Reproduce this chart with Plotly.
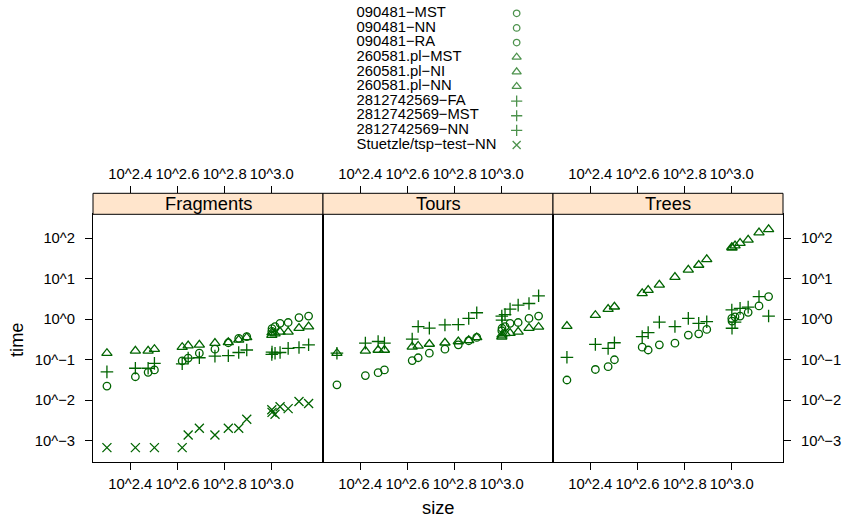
import plotly.graph_objects as go

# ---------------- data ----------------
sizes = [200, 264, 299, 318, 417, 442, 493, 574, 654, 724, 783,
         1000, 1002, 1032, 1084, 1173, 1304, 1432]

panels = ["Fragments", "Tours", "Trees"]

series_names = ["090481-MST", "090481-NN", "090481-RA",
                "260581.pl-MST", "260581.pl-NI", "260581.pl-NN",
                "2812742569-FA", "2812742569-MST", "2812742569-NN",
                "Stuetzle/tsp-test-NN"]
series_symbols = ["circle-open", "circle-open", "circle-open",
                  "triangle-up-open", "triangle-up-open", "triangle-up-open",
                  "cross-thin-open", "cross-thin-open", "cross-thin-open",
                  "x-thin-open"]
series_panel = ["Trees", "Fragments", "Tours",
                "Trees", "Tours", "Fragments",
                "Tours", "Trees", "Fragments",
                "Fragments"]

# time (seconds) per series, one value per instance size
t_090481_mst = [0.0316, 0.0575, 0.0676, 0.10, 0.204, 0.174, 0.234, 0.257, 0.407, 0.437, 0.562,
                1.05, 0.90, 1.15, 1.20, 1.48, 2.14, 3.63]
t_090481_nn = [0.0224, 0.038, 0.049, 0.0562, 0.0933, 0.11, 0.145, 0.182, 0.263, 0.339, 0.372,
               0.50, 0.59, 0.661, 0.794, 0.832, 1.10, 1.20]
t_090481_ra = [0.024, 0.0407, 0.0479, 0.0562, 0.0955, 0.112, 0.145, 0.182, 0.234, 0.295, 0.355,
               0.52, 0.60, 0.661, 0.794, 0.832, 1.05, 1.20]
t_260581_mst = [0.676, 1.26, 1.78, 2.04, 4.37, 5.25, 7.08, 11.0, 16.6, 21.9, 30.2,
                60.3, 58.0, 66.0, 75.9, 91.2, 138.0, 166.0]
t_260581_ni = [0.145, 0.166, 0.174, 0.174, 0.209, 0.219, 0.245, 0.263, 0.282, 0.302, 0.355,
               0.37, 0.41, 0.45, 0.457, 0.49, 0.603, 0.646]
t_260581_nn = [0.145, 0.166, 0.166, 0.182, 0.204, 0.224, 0.234, 0.257, 0.269, 0.309, 0.355,
               0.407, 0.47, 0.44, 0.49, 0.49, 0.603, 0.661]
t_2812742569_fa = [0.145, 0.257, 0.282, 0.257, 0.324, 0.661, 0.603, 0.724, 0.741, 1.05, 1.45,
                   1.20, 0.95, 1.30, 1.78, 2.24, 2.45, 3.80]
t_2812742569_mst = [0.115, 0.24, 0.19, 0.263, 0.372, 0.468, 0.851, 0.661, 1.05, 0.794, 0.871,
                    1.70, 0.60, 0.85, 1.86, 2.00, 3.63, 1.20]
t_2812742569_nn = [0.0501, 0.0617, 0.0617, 0.0813, 0.0794, 0.11, 0.112, 0.123, 0.126, 0.151, 0.174,
                   0.135, 0.155, 0.145, 0.151, 0.191, 0.20, 0.234]
t_stuetzle_nn = [0.000676, 0.000676, None, 0.000676, 0.000676, 0.00138, 0.00204, 0.00138, 0.00204,
                 0.00204, 0.00339, 0.0058, 0.0050, 0.0045, 0.0069, 0.0062, 0.0093, 0.0083]

series_times = [t_090481_mst, t_090481_nn, t_090481_ra,
                t_260581_mst, t_260581_ni, t_260581_nn,
                t_2812742569_fa, t_2812742569_mst, t_2812742569_nn,
                t_stuetzle_nn]

x_tick_exps = [2.4, 2.6, 2.8, 3.0]
x_tick_text = ["10^2.4", "10^2.6", "10^2.8", "10^3.0"]
y_tick_exps = [2, 1, 0, -1, -2, -3]
y_tick_text = ["10^2", "10^1", "10^0", "10^\u22121", "10^\u22122", "10^\u22123"]

# ---------------- styling / layout ----------------
W, H = 844, 518
ML, MR, MT, MB = 93, 61, 0, 56
PH = H - MT - MB            # 462
GREEN = "#006400"
FONT = "Liberation Sans, Arial, Helvetica, sans-serif"
FS = 14.8       # tick labels and key text
FS_BIG = 18.3   # strip text and axis titles

panel_top = (PH - 214.3) / PH
strip_top = (PH - 193.3) / PH
x_range = [2.242, 3.217]
y_range = [-3.526, 2.593]

def disp(name):
    return name.replace("-", "\u2212")

def msize(sym):
    return 7.5 if "circle" in sym else 9

fig = go.Figure()

for name, sym, pan, tms in zip(series_names, series_symbols, series_panel, series_times):
    k = panels.index(pan) + 1
    fig.add_trace(go.Scatter(
        x=sizes, y=tms, mode="markers", name=name,
        marker=dict(symbol=sym, color=GREEN, size=msize(sym),
                    line=dict(color=GREEN, width=1.3)),
        xaxis="x" if k == 1 else f"x{k}", yaxis="y" if k == 1 else f"y{k}",
        showlegend=False, cliponaxis=False,
    ))

# empty traces so that the top (overlaying) axes are drawn
for k in range(1, 4):
    fig.add_trace(go.Scatter(x=[], y=[], mode="markers", xaxis=f"x{k + 3}",
                             yaxis="y" if k == 1 else f"y{k}", showlegend=False,
                             hoverinfo="skip"))

# custom lattice-style key: text left, symbol right
n = len(series_names)
fig.add_trace(go.Scatter(
    x=[0] * n, y=list(range(n)), mode="text",
    text=[disp(s) for s in series_names], textposition="middle right",
    textfont=dict(family=FONT, size=FS, color="black"),
    xaxis="x7", yaxis="y7", showlegend=False, hoverinfo="skip", cliponaxis=False))
fig.add_trace(go.Scatter(
    x=[1] * n, y=list(range(n)), mode="markers",
    marker=dict(symbol=series_symbols, color=GREEN, size=[msize(s) - 1 for s in series_symbols],
                line=dict(color=GREEN, width=1.3)),
    xaxis="x7", yaxis="y7", showlegend=False, hoverinfo="skip", cliponaxis=False))

axis_common = dict(showgrid=False, zeroline=False, linecolor="black", linewidth=1,
                   tickcolor="black", ticklen=7, tickwidth=1,
                   tickfont=dict(family=FONT, size=FS, color="black"))

layout = dict(
    width=W, height=H, margin=dict(l=ML, r=MR, t=MT, b=MB, autoexpand=False),
    paper_bgcolor="white", plot_bgcolor="white", showlegend=False,
    font=dict(family=FONT, size=FS, color="black"),
)

x_tickvals = [10 ** e for e in x_tick_exps]
y_tickvals = [10 ** e for e in y_tick_exps]

for k in range(1, 4):
    dom = [(k - 1) / 3, k / 3]
    xs = "" if k == 1 else str(k)
    layout[f"xaxis{xs}"] = dict(axis_common, type="log", range=x_range, domain=dom,
                                anchor=f"y{xs}", showline=True, mirror=True,
                                ticks="outside", tickvals=x_tickvals, ticktext=x_tick_text,
                                ticklabelstandoff=1)
    yd = dict(axis_common, type="log", range=y_range, domain=[0, panel_top],
              anchor=f"x{xs}", showline=True, mirror=True,
              tickvals=y_tickvals, ticktext=y_tick_text)
    if k == 1:
        yd.update(ticks="outside", side="left", ticklabelstandoff=7)
    elif k == 3:
        yd.update(ticks="outside", side="right", ticklabelstandoff=7)
    else:
        yd.update(ticks="", showticklabels=False)
    layout[f"yaxis{xs}"] = yd
    # top axis
    layout[f"xaxis{k + 3}"] = dict(axis_common, type="log", range=x_range, domain=dom,
                                   overlaying="x" if k == 1 else f"x{k}", anchor="free",
                                   position=strip_top, side="top", showline=False,
                                   ticks="outside", tickvals=x_tickvals, ticktext=x_tick_text,
                                   ticklabelstandoff=1)

layout["xaxis7"] = dict(domain=[0.382, 0.614], range=[0, 1], visible=False, anchor="y7")
layout["yaxis7"] = dict(domain=[(PH - 152.3) / PH, (PH - 6) / PH], range=[n - 0.5, -0.5],
                        visible=False, anchor="x7")

shapes = []
annotations = []
for k, pan in enumerate(panels):
    shapes.append(dict(type="rect", xref="paper", yref="paper",
                       x0=k / 3, x1=(k + 1) / 3, y0=panel_top, y1=strip_top,
                       fillcolor="#ffe5cc", line=dict(color="black", width=1), layer="above"))
    annotations.append(dict(text=pan, xref="paper", yref="paper", x=(k + 0.5) / 3,
                            y=(panel_top + strip_top) / 2, showarrow=False,
                            xanchor="center", yanchor="middle",
                            font=dict(family=FONT, size=FS_BIG, color="black")))
annotations.append(dict(text="time", xref="paper", yref="paper",
                        x=(16 - ML) / (W - ML - MR), y=(PH - 340) / PH, textangle=-90,
                        showarrow=False, xanchor="center", yanchor="middle",
                        font=dict(family=FONT, size=FS_BIG, color="black")))
annotations.append(dict(text="size", xref="paper", yref="paper",
                        x=0.5, y=(PH - 507) / PH, showarrow=False, borderpad=0,
                        xanchor="center", yanchor="middle",
                        font=dict(family=FONT, size=FS_BIG, color="black")))
layout["shapes"] = shapes
layout["annotations"] = annotations

fig.update_layout(**layout)
fig.write_html("out.html", config={"displayModeBar": False},
               post_script="document.body.style.margin='0px';document.body.style.padding='0px';")
